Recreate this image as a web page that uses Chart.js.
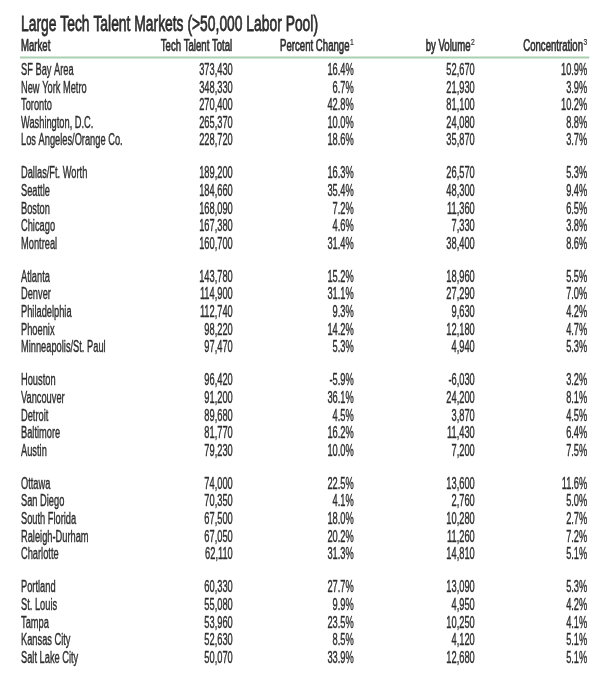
<!DOCTYPE html>
<html>
<head>
<meta charset="utf-8">
<script src="https://cdn.jsdelivr.net/npm/chart.js@4.4.0/dist/chart.umd.min.js"></script>
<style>
  html, body { margin: 0; padding: 0; background: #fff; }
  #tabla { display: block; }
</style>
</head>
<body>
<canvas id="tabla" width="605" height="680"></canvas>
<script>
// datos de la tabla
const titulo = 'Large Tech Talent Markets (>50,000 Labor Pool)';
const encabezados = ['Market', 'Tech Talent Total', 'Percent Change', 'by Volume', 'Concentration'];
const notas = ['', '', '1', '2', '3'];

const mercados = [
  'SF Bay Area', 'New York Metro', 'Toronto', 'Washington, D.C.', 'Los Angeles/Orange Co.',
  'Dallas/Ft. Worth', 'Seattle', 'Boston', 'Chicago', 'Montreal',
  'Atlanta', 'Denver', 'Philadelphia', 'Phoenix', 'Minneapolis/St. Paul',
  'Houston', 'Vancouver', 'Detroit', 'Baltimore', 'Austin',
  'Ottawa', 'San Diego', 'South Florida', 'Raleigh-Durham', 'Charlotte',
  'Portland', 'St. Louis', 'Tampa', 'Kansas City', 'Salt Lake City'
];
const talentoTotal = [
  373430, 348330, 270400, 265370, 228720,
  189200, 184660, 168090, 167380, 160700,
  143780, 114900, 112740, 98220, 97470,
  96420, 91200, 89680, 81770, 79230,
  74000, 70350, 67500, 67050, 62110,
  60330, 55080, 53960, 52630, 50070
];
const cambioPct = [
  16.4, 6.7, 42.8, 10.0, 18.6,
  16.3, 35.4, 7.2, 4.6, 31.4,
  15.2, 31.1, 9.3, 14.2, 5.3,
  -5.9, 36.1, 4.5, 16.2, 10.0,
  22.5, 4.1, 18.0, 20.2, 31.3,
  27.7, 9.9, 23.5, 8.5, 33.9
];
const porVolumen = [
  52670, 21930, 81100, 24080, 35870,
  26570, 48300, 11360, 7330, 38400,
  18960, 27290, 9630, 12180, 4940,
  -6030, 24200, 3870, 11430, 7200,
  13600, 2760, 10280, 11260, 14810,
  13090, 4950, 10250, 4120, 12680
];
const concentracion = [
  10.9, 3.9, 10.2, 8.8, 3.7,
  5.3, 9.4, 6.5, 3.8, 8.6,
  5.5, 7.0, 4.2, 4.7, 5.3,
  3.2, 8.1, 4.5, 6.4, 7.5,
  11.6, 5.0, 2.7, 7.2, 5.1,
  5.3, 4.2, 4.1, 5.1, 5.1
];
const filasPorGrupo = 5;

// layout (unidades de las escalas)
const COL_X = [0, 1.75, 2.75, 3.75, 4.68];   // ancla de cada columna
const HUECO_GRUPO = 0.88;                     // espacio extra entre grupos
const FILA_TITULO = -2.58;
const FILA_ENCABEZADO = -1.36;
const FILA_LINEA = -0.74;

const FUENTE = '"Liberation Sans", Arial, sans-serif';
const COLOR_TEXTO = '#2e2e2e';
const COLOR_LINEA = '#a9d0b0';
const TAM = 16, ANCHO = 0.58;   // tamaño y compresión horizontal del texto

const fmtNum = v => v.toLocaleString('en-US');
const fmtPct = v => v.toFixed(1) + '%';

const posFila = i => i + Math.floor(i / filasPorGrupo) * HUECO_GRUPO;

const columnas = [
  mercados,
  talentoTotal.map(fmtNum),
  cambioPct.map(fmtPct),
  porVolumen.map(fmtNum),
  concentracion.map(fmtPct)
];

// texto "condensado": escalamos en x y engrosamos un poco
function textoAngosto(ctx, str, x, y, align, size, sx, grosor) {
  ctx.save();
  ctx.font = size + 'px ' + FUENTE;
  ctx.translate(x, y);
  ctx.scale(sx, 1);
  ctx.textAlign = align;
  ctx.textBaseline = 'middle';
  ctx.fillText(str, 0, 0);
  if (grosor) {
    ctx.strokeStyle = COLOR_TEXTO;
    ctx.lineWidth = grosor;
    ctx.strokeText(str, 0, 0);
  }
  const w = ctx.measureText(str).width * sx;
  ctx.restore();
  return w;
}

const pluginTabla = {
  id: 'pluginTabla',
  afterDatasetsDraw(chart) {
    const ctx = chart.ctx;
    const sx = chart.scales.x;
    const sy = chart.scales.y;
    ctx.save();
    ctx.fillStyle = COLOR_TEXTO;

    // título
    textoAngosto(ctx, titulo, sx.getPixelForValue(0), sy.getPixelForValue(FILA_TITULO), 'left', 22, 0.63, 0.8);

    // encabezados
    encabezados.forEach((txt, c) => {
      const x = sx.getPixelForValue(COL_X[c]);
      const y = sy.getPixelForValue(FILA_ENCABEZADO);
      if (c === 0) {
        textoAngosto(ctx, txt, x, y, 'left', TAM, 0.6, 0.7);
        return;
      }
      let supW = 0;
      if (notas[c]) {
        ctx.save();
        ctx.font = '9px ' + FUENTE;
        supW = ctx.measureText(notas[c]).width * 0.75;
        ctx.restore();
        textoAngosto(ctx, notas[c], x, y - 4, 'right', 9, 0.75, 0.2);
      }
      textoAngosto(ctx, txt, x - supW - 0.5, y, 'right', TAM, 0.6, 0.7);
    });

    // línea verde bajo los encabezados
    const yl = sy.getPixelForValue(FILA_LINEA);
    ctx.strokeStyle = COLOR_LINEA;
    ctx.lineWidth = 2;
    ctx.beginPath();
    ctx.moveTo(sx.getPixelForValue(0) - 1, yl);
    ctx.lineTo(sx.getPixelForValue(COL_X[4]) + 2, yl);
    ctx.stroke();

    // celdas: una por punto de cada dataset
    chart.data.datasets.forEach((ds, c) => {
      const meta = chart.getDatasetMeta(c);
      meta.data.forEach((pt, i) => {
        textoAngosto(ctx, ds.textos[i], pt.x, pt.y, c === 0 ? 'left' : 'right', TAM, ANCHO, 0.4);
      });
    });
    ctx.restore();
  }
};

const datasets = columnas.map((col, c) => ({
  label: encabezados[c],
  data: col.map((_, i) => ({ x: COL_X[c], y: posFila(i) })),
  textos: col,
  pointRadius: 0,
  pointHoverRadius: 0,
  showLine: false
}));

new Chart(document.getElementById('tabla'), {
  type: 'scatter',
  data: { datasets },
  options: {
    responsive: false,
    animation: false,
    events: [],
    layout: { padding: 0 },
    plugins: {
      legend: { display: false },
      tooltip: { enabled: false }
    },
    scales: {
      x: { type: 'linear', display: false, min: -21 / 121, max: 584 / 121 },
      y: { type: 'linear', display: false, reverse: true, min: -70.5 / 17.6, max: 609.5 / 17.6 }
    }
  },
  plugins: [pluginTabla]
});
</script>
</body>
</html>
